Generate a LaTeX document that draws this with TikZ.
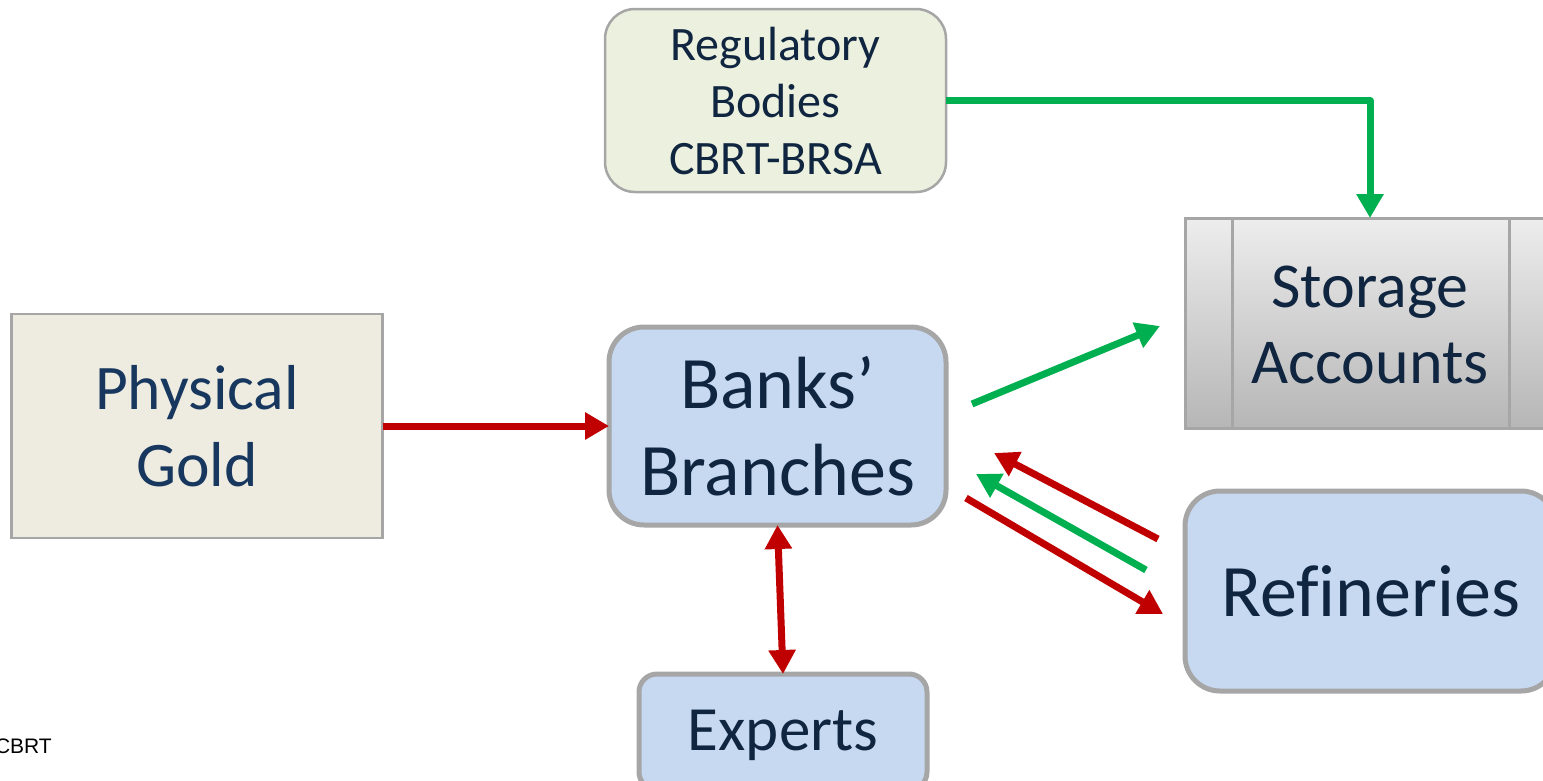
\documentclass[tikz,border=0pt]{standalone}
\usepackage{fontspec}
\setmainfont{Carlito}
\newfontfamily\notefont{Liberation Sans}
\usetikzlibrary{arrows.meta,shadings}
\definecolor{edgegray}{HTML}{A6A6A6}
\definecolor{paleblue}{HTML}{C6D9F1}
\definecolor{palegreen}{HTML}{EBF1DE}
\definecolor{paletan}{HTML}{EEECE1}
\definecolor{inkdark}{HTML}{10253F}
\definecolor{inkblue}{HTML}{17375E}
\definecolor{redline}{HTML}{C00000}
\definecolor{greenline}{HTML}{00B050}
\definecolor{shadetop}{HTML}{EDEDED}
\definecolor{shadebot}{HTML}{B6B6B6}
\newcommand{\fs}[2]{\fontsize{#1}{#2}\selectfont}
\tikzset{
  box/.style={draw=edgegray,align=center,inner sep=0pt,outer sep=0pt,text=inkdark},
  bluebox/.style={box,fill=paleblue,line width=5pt},
  boxtext/.style={align=center,inner sep=0pt,outer sep=0pt,text=inkdark},
  redarrow/.style={draw=redline,line width=7pt,-{Triangle[length=24pt,width=26pt]}},
  greenarrow/.style={draw=greenline,line width=7pt,line join=round,-{Triangle[length=24pt,width=26pt]}},
  twoway/.style={draw=redline,line width=7pt,{Triangle[length=24pt,width=26pt]}-{Triangle[length=24pt,width=26pt]}},
}
\begin{document}
\begin{tikzpicture}[x=1pt,y=-1pt]
\useasboundingbox (0,0) rectangle (1543,780);
\begin{scope}
\clip (0,0) rectangle (1543,780);
\node[box,fill=palegreen,line width=2.5pt,rounded corners=30pt,minimum width=341pt,minimum height=183pt,font=\fs{48}{57}] (reg) at (775.5,100.5)
  {Regulatory\\Bodies\\CBRT-BRSA};
\node[box,fill=paletan,line width=2.5pt,text=inkblue,minimum width=371pt,minimum height=224pt,font=\fs{63.5}{77}] (gold) at (197,426)
  {Physical\\Gold};
\node[bluebox,rounded corners=35pt,minimum width=337pt,minimum height=198pt,font=\fs{74}{87}] (banks) at (777.5,426)
  {Banks’\\Branches};
\node[box,line width=3pt,top color=shadetop,bottom color=shadebot,minimum width=370pt,minimum height=210pt,
  label={[boxtext,font=\fs{64}{76},yshift=-2pt]center:{Storage\\Accounts}}] (store) at (1370,323) {};
\draw[edgegray,line width=3pt] (1232,218) -- (1232,428) (1509,218) -- (1509,428);
\node[bluebox,rounded corners=35pt,minimum width=371pt,minimum height=200pt,font=\addfontfeatures{Ligatures=NoCommon}\fs{74}{85}] (ref) at (1370.5,591)
  {Refineries};
\node[bluebox,rounded corners=18pt,minimum width=288pt,minimum height=116pt,
  label={[boxtext,font=\fs{63}{70},yshift=-3pt]center:Experts}] (exp) at (783,732) {};
\end{scope}
\node[anchor=base east,inner sep=0pt,font=\notefont\fs{21}{25}] (src) at (52,753) {CBRT};

\coordinate (g1) at (972,404);   \coordinate (g2) at (1160,326);
\coordinate (r1) at (1158,539);  \coordinate (r2) at (994,453);
\coordinate (g3) at (1146,570);  \coordinate (g4) at (976,474);
\coordinate (r3) at (966,498);   \coordinate (r4) at (1163,614);

\draw[redarrow] (gold.east) -- (banks.west);
\draw[greenarrow] (reg.east) -| (store.north);
\draw[twoway] (banks.south) -- (exp.north);
\draw[greenarrow] (g1) -- (g2);
\draw[redarrow] (r1) -- (r2);
\draw[greenarrow] (g3) -- (g4);
\draw[redarrow] (r3) -- (r4);
\end{tikzpicture}
\end{document}
